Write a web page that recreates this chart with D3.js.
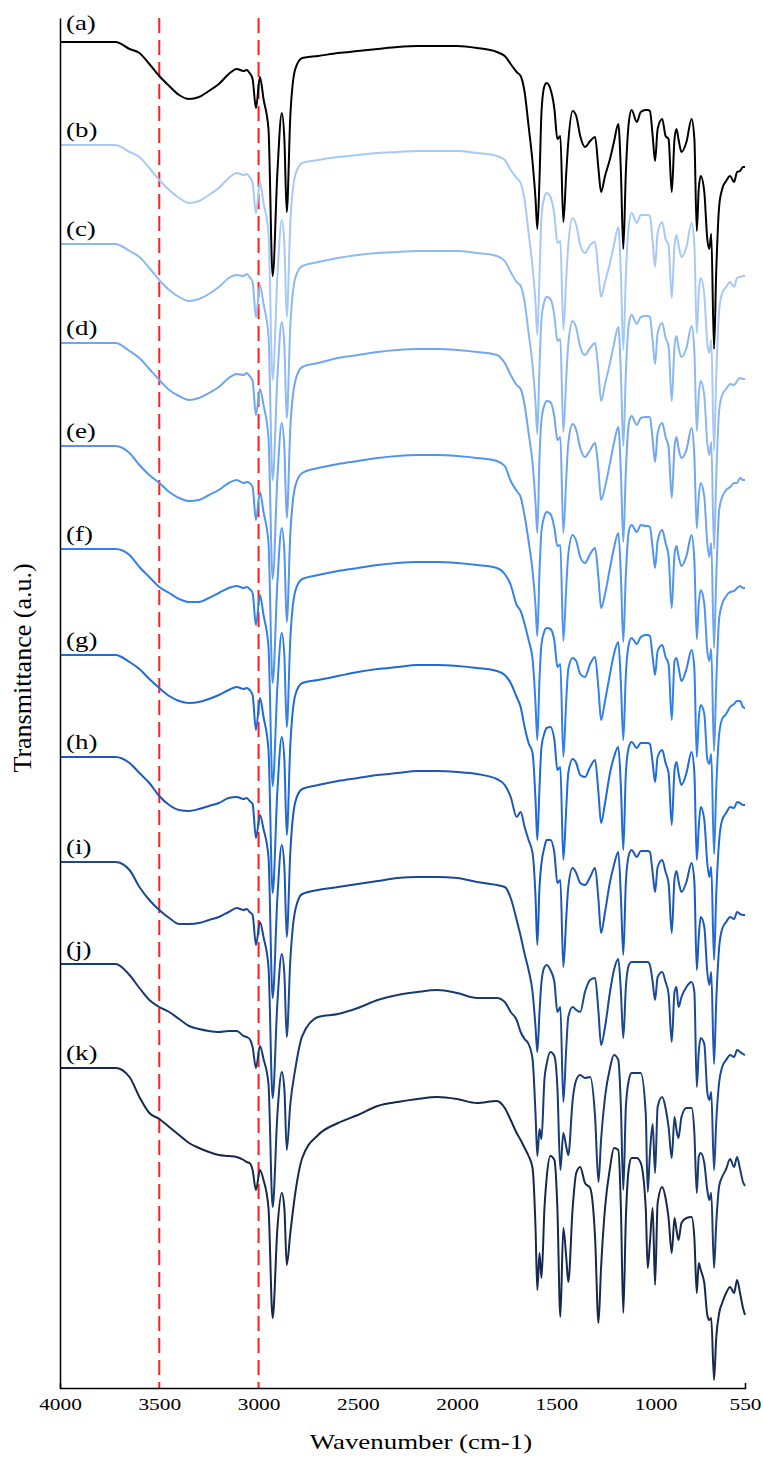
<!DOCTYPE html>
<html>
<head>
<meta charset="utf-8">
<script src="https://cdn.jsdelivr.net/npm/d3@7"></script>
<style>
  body { margin: 0; background: #fff; }
  svg text { font-family: "Liberation Serif", "Times New Roman", serif; fill: #000; }
</style>
</head>
<body>
<svg id="chart"></svg>
<script>
//------ Données ------
// nombres d'onde communs (cm-1)
var wavenumbers = [4000,3850,3720,3650,3600,3550,3500,3450,3400,3350,
  3300,3250,3200,3150,3110,3075,3060,3045,3030,3013,
  2993,2975,2950,2929,2905,2883,2870,2858,2840,2815,
  2780,2700,2600,2500,2400,2300,2200,2100,2000,1900,
  1800,1760,1730,1700,1680,1660,1640,1620,1605,1596,
  1585,1575,1560,1549,1530,1510,1495,1480,1465,1450,
  1440,1418,1400,1380,1356,1330,1305,1288,1275,1255,
  1230,1210,1188,1175,1163,1150,1135,1121,1095,1075,
  1050,1040,1029,1015,1003,990,967,950,935,919,
  905,895,885,870,845,819,805,793,783,773,
  755,740,730,720,706,695,680,665,645,625,
  605,590,575,560,550];

// transmittance relative a 4000 cm-1 (u.a.)
var specA = [0,0,0,-7,-11,-22,-34,-44,-53,-57,
  -55,-49,-42,-32,-27,-29,-28,-31,-37,-66,
  -35,-57,-87,-234,-130,-71,-97,-170,-74,-27,
  -16,-14,-11,-9,-7,-5,-4,-4,-4,-6,
  -10,-14,-22,-30,-34,-50,-84,-120,-157,-187,
  -137,-70,-44,-41,-47,-67,-97,-94,-180,-130,
  -100,-69,-74,-94,-105,-99,-95,-127,-150,-134,
  -117,-100,-82,-130,-207,-130,-80,-68,-80,-70,
  -68,-68,-69,-94,-119,-87,-77,-94,-97,-150,
  -97,-87,-97,-110,-100,-77,-97,-189,-147,-134,
  -150,-197,-207,-192,-307,-230,-164,-147,-139,-134,
  -140,-130,-129,-125,-125];
var specB = [0,0,0,-7,-12,-23,-35,-45,-53,-58,
  -56,-50,-43,-33,-28,-30,-29,-32,-38,-68,
  -37,-58,-88,-235,-131,-75,-99,-172,-78,-30,
  -18,-15,-12,-10,-8,-7,-6,-6,-6,-8,
  -11,-15,-25,-33,-38,-55,-88,-122,-158,-190,
  -130,-72,-52,-48,-52,-70,-98,-96,-185,-132,
  -100,-73,-80,-100,-108,-100,-97,-128,-152,-137,
  -118,-100,-82,-130,-205,-130,-80,-68,-78,-70,
  -70,-70,-71,-97,-122,-88,-77,-94,-100,-153,
  -100,-90,-100,-112,-102,-78,-100,-188,-148,-133,
  -150,-198,-208,-195,-306,-232,-165,-148,-142,-137,
  -142,-133,-132,-131,-131];
var specC = [0,0,0,-7,-13,-24,-36,-46,-53,-57,
  -55,-50,-43,-34,-31,-32,-30,-33,-38,-73,
  -41,-60,-92,-236,-133,-78,-102,-174,-82,-34,
  -22,-18,-14,-11,-9,-8,-7,-7,-7,-9,
  -12,-17,-28,-38,-42,-58,-89,-121,-159,-190,
  -122,-75,-57,-53,-55,-72,-97,-95,-188,-133,
  -100,-77,-84,-103,-111,-104,-99,-128,-157,-140,
  -119,-100,-83,-130,-202,-128,-80,-71,-80,-73,
  -72,-72,-73,-97,-120,-89,-79,-94,-102,-157,
  -102,-92,-103,-113,-104,-82,-108,-187,-151,-137,
  -152,-199,-211,-198,-305,-234,-166,-151,-145,-140,
  -141,-137,-134,-135,-135];
var specD = [0,0,0,-8,-15,-26,-37,-47,-53,-57,
  -55,-50,-44,-35,-31,-32,-30,-33,-38,-72,
  -46,-62,-95,-236,-135,-80,-105,-175,-85,-38,
  -24,-20,-15,-12,-9,-7,-6,-6,-7,-9,
  -12,-20,-32,-42,-46,-62,-90,-120,-160,-190,
  -114,-77,-62,-58,-59,-74,-97,-94,-190,-134,
  -100,-81,-87,-105,-114,-107,-100,-127,-157,-144,
  -120,-100,-84,-130,-199,-127,-80,-73,-82,-75,
  -74,-74,-74,-97,-119,-90,-80,-94,-104,-155,
  -104,-94,-105,-115,-107,-85,-114,-185,-154,-140,
  -154,-200,-214,-200,-305,-235,-167,-154,-147,-144,
  -140,-140,-135,-137,-137];
var specE = [0,0,0,-7,-19,-29,-37,-46,-52,-55,
  -54,-49,-44,-37,-34,-37,-36,-37,-41,-74,
  -46,-66,-97,-237,-136,-82,-106,-176,-88,-40,
  -27,-22,-18,-15,-12,-10,-9,-9,-10,-12,
  -15,-20,-35,-45,-51,-70,-95,-125,-160,-190,
  -125,-85,-70,-66,-68,-82,-100,-99,-195,-140,
  -108,-89,-95,-111,-117,-108,-102,-132,-162,-148,
  -122,-102,-87,-130,-196,-128,-85,-79,-86,-79,
  -80,-80,-81,-102,-122,-95,-84,-97,-110,-162,
  -108,-100,-110,-120,-110,-89,-115,-193,-158,-144,
  -158,-205,-215,-203,-305,-238,-172,-158,-150,-146,
  -145,-142,-140,-142,-142];
var specF = [0,0,0,-6,-18,-28,-38,-44,-50,-53,
  -53,-49,-44,-39,-37,-39,-38,-40,-44,-76,
  -46,-66,-98,-237,-137,-84,-107,-178,-90,-42,
  -30,-26,-22,-19,-16,-14,-13,-13,-14,-16,
  -19,-25,-36,-56,-62,-75,-91,-110,-155,-191,
  -130,-95,-82,-79,-80,-92,-118,-115,-208,-150,
  -120,-109,-112,-125,-128,-115,-108,-140,-171,-152,
  -125,-105,-93,-135,-191,-125,-95,-89,-95,-88,
  -86,-86,-87,-108,-126,-102,-96,-108,-115,-171,
  -112,-109,-118,-132,-120,-101,-120,-208,-170,-156,
  -165,-210,-215,-205,-305,-240,-185,-170,-165,-158,
  -155,-152,-152,-158,-159];
var specG = [0,0,0,-7,-14,-24,-33,-41,-46,-48,
  -47,-44,-40,-35,-32,-34,-33,-35,-40,-75,
  -43,-62,-95,-238,-135,-82,-105,-180,-90,-40,
  -28,-25,-21,-17,-14,-12,-10,-10,-11,-13,
  -16,-20,-28,-42,-52,-72,-88,-98,-145,-185,
  -132,-92,-78,-73,-72,-85,-115,-112,-205,-152,
  -118,-104,-108,-120,-122,-112,-105,-138,-168,-148,
  -118,-102,-92,-132,-195,-118,-92,-87,-93,-88,
  -88,-88,-89,-108,-127,-102,-95,-108,-118,-170,
  -115,-107,-118,-130,-118,-97,-118,-205,-172,-152,
  -165,-208,-222,-212,-305,-240,-185,-165,-158,-152,
  -153,-147,-148,-150,-150];
var specH = [0,0,0,-6,-16,-26,-39,-48,-53,-54,
  -52,-49,-46,-41,-40,-42,-41,-44,-47,-81,
  -58,-72,-100,-241,-140,-88,-110,-180,-95,-45,
  -32,-28,-24,-21,-18,-16,-14,-14,-15,-17,
  -22,-28,-40,-60,-55,-70,-83,-96,-140,-188,
  -130,-106,-90,-83,-83,-96,-126,-123,-210,-160,
  -130,-111,-116,-126,-128,-120,-111,-143,-176,-155,
  -125,-108,-95,-140,-198,-125,-98,-93,-100,-94,
  -94,-94,-95,-116,-135,-110,-103,-115,-126,-176,
  -122,-114,-124,-135,-125,-106,-125,-213,-180,-160,
  -170,-215,-228,-215,-307,-245,-190,-172,-165,-160,
  -162,-155,-157,-158,-158];
var specI = [0,0,0,-8,-25,-38,-48,-56,-62,-62,
  -61,-58,-55,-50,-46,-48,-47,-50,-53,-83,
  -60,-75,-105,-236,-140,-92,-112,-175,-98,-48,
  -32,-28,-25,-22,-19,-16,-15,-15,-16,-20,
  -23,-25,-36,-58,-74,-92,-108,-130,-165,-190,
  -150,-120,-105,-103,-108,-120,-150,-145,-240,-185,
  -155,-145,-148,-150,-130,-118,-116,-150,-183,-165,
  -130,-108,-97,-130,-176,-125,-103,-100,-100,-100,
  -100,-100,-103,-120,-138,-115,-110,-120,-132,-180,
  -130,-125,-145,-135,-125,-120,-130,-225,-190,-176,
  -182,-230,-238,-230,-308,-260,-220,-205,-198,-193,
  -195,-188,-190,-192,-193];
var specJ = [0,0,0,-11,-24,-36,-43,-48,-55,-62,
  -65,-67,-68,-67,-67,-72,-73,-75,-83,-104,
  -82,-95,-120,-243,-150,-108,-125,-186,-140,-105,
  -72,-53,-50,-44,-36,-31,-28,-26,-29,-34,
  -34,-38,-48,-56,-68,-75,-80,-95,-150,-192,
  -165,-175,-115,-100,-88,-92,-123,-206,-169,-183,
  -191,-136,-116,-111,-114,-113,-153,-218,-176,-133,
  -104,-91,-96,-143,-226,-143,-116,-109,-109,-109,
  -149,-228,-190,-160,-209,-143,-133,-144,-163,-194,
  -153,-166,-174,-153,-144,-144,-169,-229,-193,-189,
  -199,-226,-236,-229,-304,-260,-222,-213,-205,-195,
  -203,-193,-205,-218,-222];
var specK = [0,0,0,-9,-29,-45,-51,-59,-67,-75,
  -80,-84,-87,-88,-89,-92,-94,-95,-102,-122,
  -102,-112,-140,-250,-160,-125,-140,-197,-165,-125,
  -90,-67,-55,-47,-38,-34,-31,-29,-31,-35,
  -33,-40,-52,-65,-72,-80,-88,-100,-160,-222,
  -185,-210,-140,-110,-88,-92,-140,-249,-160,-190,
  -214,-140,-105,-99,-115,-120,-170,-255,-200,-140,
  -100,-80,-82,-140,-245,-150,-100,-90,-90,-95,
  -140,-200,-175,-140,-217,-135,-119,-130,-150,-185,
  -150,-162,-172,-155,-150,-149,-170,-225,-195,-202,
  -215,-247,-252,-250,-312,-270,-245,-235,-225,-219,
  -225,-212,-225,-240,-247];

var labels = ["(a)","(b)","(c)","(d)","(e)","(f)","(g)","(h)","(i)","(j)","(k)"];
// decalage vertical de chaque spectre (u.a.)
var offsets = [0,103,202,301,404,507,613,715,820,922,1026];
var colors = ["#000000","#a7c9f7","#8cb8f4","#70a6f1","#5194ef","#3180ea","#1f6ad7","#1c58b9","#1b4894","#183a73","#15294d"];
var tickValues = [4000,3500,3000,2500,2000,1500,1000,550];
var guideLines = [3500,3000];

var spectra = [specA,specB,specC,specD,specE,specF,specG,specH,specI,specJ,specK];

//------ Rendre le graphique ------
var width = 763,
    height = 1458;

var svg = d3.select("#chart")
    .attr("width", width)
    .attr("height", height);

var x = d3.scaleLinear().domain([4000, 550]).range([60, 745]);
var y = d3.scaleLinear().domain([-1346, 24]).range([1388, 18]);

// lignes pointillees rouges
svg.selectAll("line.guide")
    .data(guideLines)
    .enter()
    .append("line")
    .attr("class", "guide")
    .attr("x1", d => x(d))
    .attr("x2", d => x(d))
    .attr("y1", y.range()[1])
    .attr("y2", y.range()[0])
    .attr("stroke", "#ff1f1f")
    .attr("stroke-width", 2)
    .attr("stroke-dasharray", "15,7");

var line = d3.line()
    .x(d => x(d[0]))
    .y(d => y(d[1]))
    .curve(d3.curveMonotoneX);

// (a) dessine en dernier, au-dessus
var order = d3.range(spectra.length).reverse();
svg.selectAll("path.spectrum")
    .data(order)
    .enter()
    .append("path")
    .attr("class", "spectrum")
    .attr("fill", "none")
    .attr("stroke", i => colors[i])
    .attr("stroke-width", 2)
    .attr("stroke-linejoin", "round")
    .attr("d", i => line(wavenumbers.map((w, j) => [w, spectra[i][j] - offsets[i]])));

// etiquettes
svg.selectAll("text.label")
    .data(labels)
    .enter()
    .append("text")
    .attr("class", "label")
    .attr("font-size", 21)
    .attr("transform", (d, i) => "translate(66," + (y(-offsets[i]) - (i === 0 ? 12 : 8)) + ") scale(1.28,1)")
    .text(d => d);

// axes
var xAxis = svg.append("g")
    .attr("transform", "translate(0," + y.range()[0] + ")")
    .call(d3.axisBottom(x)
        .tickValues(tickValues)
        .tickFormat(d3.format("d"))
        .tickSizeInner(0)
        .tickSizeOuter(-5)
        .tickPadding(10))
    .attr("font-size", 17.5);
xAxis.select(".domain").attr("stroke", "#000").attr("stroke-width", 1.5);
xAxis.selectAll(".tick text").attr("transform", "scale(1.22,1)");

var yAxis = svg.append("g")
    .attr("transform", "translate(" + x.range()[0] + ",0)")
    .call(d3.axisLeft(y).tickValues([]).tickSizeOuter(0));
yAxis.select(".domain").attr("stroke", "#000").attr("stroke-width", 1.5);

svg.append("text")
    .attr("text-anchor", "middle")
    .attr("font-size", 21)
    .attr("transform", "translate(421,1449) scale(1.28,1)")
    .text("Wavenumber (cm-1)");

svg.append("text")
    .attr("text-anchor", "middle")
    .attr("font-size", 26)
    .attr("transform", "translate(31,668) rotate(-90)")
    .text("Transmittance (a.u.)");
</script>
</body>
</html>
